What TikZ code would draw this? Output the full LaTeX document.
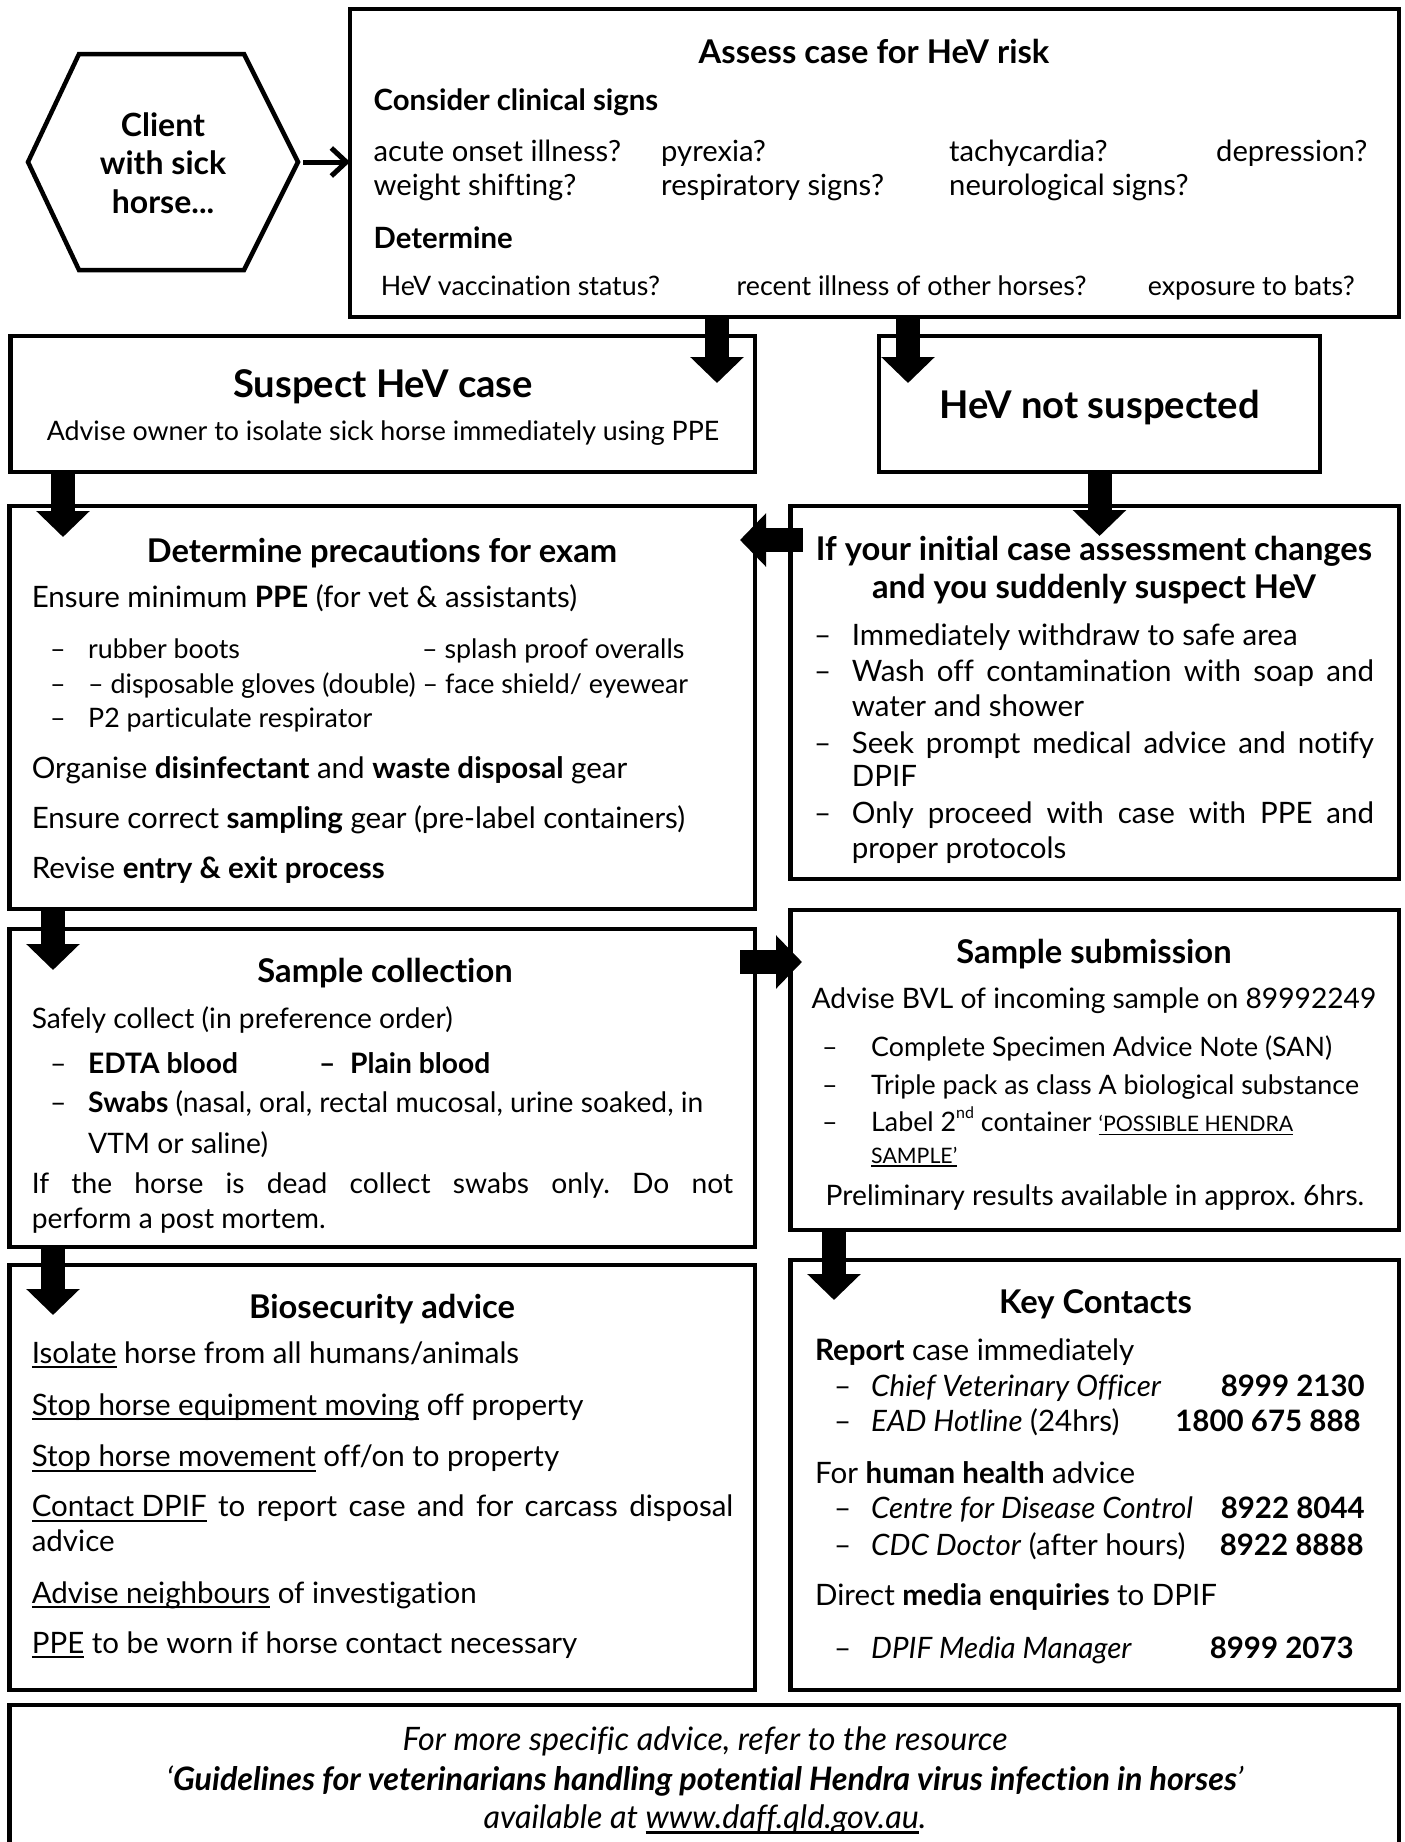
\documentclass[tikz,border=0pt]{standalone}
\usepackage{fontspec}
\setmainfont{Lato}[Ligatures={TeX,NoCommon}]
\usetikzlibrary{arrows.meta,calc}

\newcommand{\bodyfont}{\fontsize{29.5}{34}\selectfont}
\newcommand{\listfont}{\fontsize{26.8}{32}\selectfont}
\newcommand{\collfont}{\fontsize{28.2}{33}\selectfont}
\newcommand{\topfont}{\fontsize{29.2}{34}\selectfont}
\newcommand{\subheadfont}{\fontsize{29.3}{34}\selectfont\bfseries}
\newcommand{\titlefont}{\fontsize{32.7}{38}\selectfont\bfseries}
\newcommand{\hexfont}{\fontsize{32}{38}\selectfont\bfseries}
\newcommand{\bigfont}{\fontsize{38.2}{44}\selectfont\bfseries}
\newcommand{\capsfont}{\fontsize{21.3}{25}\selectfont}
\newcommand{\supfont}{\fontsize{16}{16}\selectfont}
\newcommand{\footfont}{\fontsize{32.3}{38}\selectfont\itshape}
\newcommand{\justline}[2]{\makebox[#1][s]{#2}}
\newcommand{\uln}[1]{\setbox0\hbox{#1}\rlap{\rule[-0.17em]{\wd0}{0.065em}}\box0\relax}
\frenchspacing

\begin{document}
\begin{tikzpicture}[x=1pt,y=-1pt,
  box/.style={draw, line width=4.5pt, anchor=north west, inner sep=0pt, outer sep=0pt},
  txt/.style={anchor=base west, inner sep=0pt, font=\bodyfont},
  listtxt/.style={anchor=base west, inner sep=0pt, font=\listfont},
  colltxt/.style={anchor=base west, inner sep=0pt, font=\collfont},
  toptxt/.style={anchor=base west, inner sep=0pt, font=\topfont},
  subhead/.style={anchor=base west, inner sep=0pt, font=\subheadfont},
  title/.style={anchor=base, inner sep=0pt, font=\titlefont},
  hextxt/.style={anchor=base, inner sep=0pt, font=\hexfont},
  bigtitle/.style={anchor=base, inner sep=0pt, font=\bigfont},
  num/.style={anchor=base east, inner sep=0pt, font=\bodyfont\bfseries},
  foot/.style={anchor=base, inner sep=0pt, font=\footfont},
  blockarrow/.style={line width=24pt, -{Triangle[width=52pt,length=26pt]}},
  thinarrow/.style={line width=5pt, -{Straight Barb[length=15pt,width=28pt]}}
  ]
\useasboundingbox (0,0) rectangle (1405,1842);

% client hexagon
\draw[line width=4.5pt] (28,162) -- (79,54) -- (244,54) -- (298,162) coordinate (hexE)
  -- (244,270) -- (79,270) -- cycle;
\node[hextxt] (client1) at (163,136) {Client};
\node[hextxt] (client2) at (163,174) {with sick};
\node[hextxt] (client3) at (163,213) {horse...};

% boxes
\node[box, minimum width=1049pt, minimum height=308pt] (assess) at (350,9) {};
\node[box, minimum width=744.4pt, minimum height=136pt] (suspect) at (10.6,336) {};
\node[box, minimum width=441pt, minimum height=136pt] (notsusp) at (879,336) {};
\node[box, minimum width=745.6pt, minimum height=403pt] (precaution) at (9.4,506) {};
\node[box, minimum width=608.4pt, minimum height=373pt] (changes) at (790.6,506) {};
\node[box, minimum width=745.6pt, minimum height=318pt] (collect) at (9.4,929) {};
\node[box, minimum width=608.4pt, minimum height=320pt] (submit) at (790.6,910) {};
\node[box, minimum width=745.6pt, minimum height=425pt] (biosec) at (9.4,1265) {};
\node[box, minimum width=608.4pt, minimum height=430pt] (contacts) at (790.6,1260) {};
\node[box, minimum width=1389.6pt, minimum height=170pt] (resource) at (9.4,1705) {};

% assess case
\node[title] (assessT) at (874,63) {Assess case for HeV risk};
\node[subhead] (signs) at (373.5,110) {Consider clinical signs};
\node[toptxt] (s1) at (373.5,161) {acute onset illness?};
\node[toptxt] (s2) at (661,161) {pyrexia?};
\node[toptxt] (s3) at (949,161) {tachycardia?};
\node[toptxt] (s4) at (1216,161) {depression?};
\node[toptxt] (s5) at (373.5,195) {weight shifting?};
\node[toptxt] (s6) at (661,195) {respiratory signs?};
\node[toptxt] (s7) at (949,195) {neurological signs?};
\node[subhead] (determ) at (373.5,248) {Determine};
\node[listtxt] (d1) at (380.6,295) {HeV vaccination status?};
\node[listtxt] (d2) at (736.5,295) {recent illness of other horses?};
\node[listtxt] (d3) at (1147.7,295) {exposure to bats?};

% suspect / not suspected
\node[bigtitle] (suspectT) at (383,397) {Suspect HeV case};
\node[anchor=base, inner sep=0pt, font=\listfont] (suspectS) at (383,440) {Advise owner to isolate sick horse immediately using PPE};
\node[bigtitle] (notsuspT) at (1099.5,418) {HeV not suspected};

% precautions
\node[title] (precT) at (382,562) {Determine precautions for exam};
\node[txt] (p1) at (31.6,607) {Ensure minimum \textbf{PPE} (for vet \& assistants)};
\node[listtxt] (pd1) at (50,658) {--};
\node[listtxt] (pd2) at (50,693) {--};
\node[listtxt] (pd3) at (50,727) {--};
\node[listtxt] (p2) at (88,658) {rubber boots};
\node[listtxt] (p3) at (422,658) {-- splash proof overalls};
\node[listtxt] (p4) at (88,693) {-- disposable gloves (double) -- face shield/ eyewear};
\node[listtxt] (p5) at (88,727) {P2 particulate respirator};
\node[txt] (p6) at (31.6,778) {Organise \textbf{disinfectant} and \textbf{waste disposal} gear};
\node[txt] (p7) at (31.6,828) {Ensure correct \textbf{sampling} gear (pre-label containers)};
\node[txt] (p8) at (31.6,878) {Revise \textbf{entry \& exit process}};

% if assessment changes
\node[title] (chT1) at (1094,560) {If your initial case assessment changes};
\node[title] (chT2) at (1094,598) {and you suddenly suspect HeV};
\node[txt] (cd1) at (814,645) {--};
\node[txt] (cd2) at (814,681.7) {--};
\node[txt] (cd3) at (814,753) {--};
\node[txt] (cd4) at (814,823) {--};
\node[txt] (c1) at (851.7,645) {Immediately withdraw to safe area};
\node[txt] (c2) at (851.7,681.7) {\justline{522pt}{Wash off contamination with soap and}};
\node[txt] (c3) at (851.7,716.7) {water and shower};
\node[txt] (c4) at (851.7,753) {\justline{522pt}{Seek prompt medical advice and notify}};
\node[txt] (c5) at (851.7,786.7) {DPIF};
\node[txt] (c6) at (851.7,823) {\justline{522pt}{Only proceed with case with PPE and}};
\node[txt] (c7) at (851.7,858) {proper protocols};

% sample collection
\node[title] (collT) at (385,982) {Sample collection};
\node[colltxt] (k1) at (31.6,1028) {Safely collect (in preference order)};
\node[colltxt] (kd1) at (50,1073) {--};
\node[colltxt] (kd2) at (50,1112.7) {--};
\node[colltxt] (k2) at (88,1073) {\textbf{EDTA blood}};
\node[colltxt] (k3) at (319,1073) {\textbf{--}};
\node[colltxt] (k4) at (350,1073) {\textbf{Plain blood}};
\node[colltxt] (k5) at (88,1112.7) {\textbf{Swabs} (nasal, oral, rectal mucosal, urine soaked, in};
\node[colltxt] (k6) at (88,1153) {VTM or saline)};
\node[colltxt] (k7) at (31.6,1193) {\justline{701.4pt}{If the horse is dead collect swabs only. Do not}};
\node[colltxt] (k8) at (31.6,1228) {perform a post mortem.};

% sample submission
\node[title] (subT) at (1094,963) {Sample submission};
\node[anchor=base, inner sep=0pt, font=\collfont] (u1) at (1094,1008) {Advise BVL of incoming sample on 89992249};
\node[listtxt] (ud1) at (822,1056.7) {--};
\node[listtxt] (ud2) at (822,1094) {--};
\node[listtxt] (ud3) at (822,1131.7) {--};
\node[listtxt] (u2) at (871,1056.7) {Complete Specimen Advice Note (SAN)};
\node[listtxt] (u3) at (871,1094) {Triple pack as class A biological substance};
\node[listtxt] (u4) at (871,1131.7) {Label 2\raisebox{0.5em}{\supfont nd} container {\capsfont\uln{`POSSIBLE HENDRA}}};
\node[anchor=base west, inner sep=0pt, font=\capsfont] (u5) at (871,1163) {\uln{SAMPLE'}};
\node[anchor=base, inner sep=0pt, font=\collfont] (u6) at (1095,1205) {Preliminary results available in approx. 6hrs.};

% biosecurity
\node[title] (bioT) at (382,1318) {Biosecurity advice};
\node[txt] (b1) at (31.6,1363) {\uln{Isolate} horse from all humans/animals};
\node[txt] (b2) at (31.6,1415) {\uln{Stop horse equipment moving} off property};
\node[txt] (b3) at (31.6,1466.7) {\uln{Stop horse movement} off/on to property};
\node[txt] (b4) at (31.6,1516.7) {\justline{701.4pt}{\uln{Contact DPIF} to report case and for carcass disposal}};
\node[txt] (b5) at (31.6,1551.7) {advice};
\node[txt] (b6) at (31.6,1603) {\uln{Advise neighbours} of investigation};
\node[txt] (b7) at (31.6,1653) {\uln{PPE} to be worn if horse contact necessary};

% key contacts
\node[title] (keyT) at (1095.5,1313) {Key Contacts};
\node[txt] (r1) at (815,1360) {\textbf{Report} case immediately};
\node[txt] (rd1) at (834,1396.7) {--};
\node[txt] (rd2) at (834,1431.7) {--};
\node[txt] (rd3) at (834,1518) {--};
\node[txt] (rd4) at (834,1555) {--};
\node[txt] (rd5) at (834,1658) {--};
\node[txt] (r2) at (871,1396.7) {\textit{Chief Veterinary Officer}};
\node[num] (n2) at (1365,1396.7) {8999 2130};
\node[txt] (r3) at (871,1431.7) {\textit{EAD Hotline} (24hrs)};
\node[num] (n3) at (1361,1431.7) {1800 675 888};
\node[txt] (r4) at (815,1483) {For \textbf{human health} advice};
\node[txt] (r5) at (871,1518) {\textit{Centre for Disease Control}};
\node[num] (n5) at (1365,1518) {8922 8044};
\node[txt] (r6) at (871,1555) {\textit{CDC Doctor} (after hours)};
\node[num] (n6) at (1364,1555) {8922 8888};
\node[txt] (r7) at (815,1605) {Direct \textbf{media enquiries} to DPIF};
\node[txt] (r8) at (871,1658) {\textit{DPIF Media Manager}};
\node[num] (n8) at (1354,1658) {8999 2073};

% resource
\node[foot] (f1) at (705,1750) {For more specific advice, refer to the resource};
\node[foot] (f2) at (705,1790) {`\textbf{Guidelines for veterinarians handling potential Hendra virus infection in horses}'};
\node[foot] (f3) at (705,1828) {available at \uln{www.daff.qld.gov.au}.};

% arrows
\draw[thinarrow] ([xshift=5pt]hexE) -- (hexE -| assess.west);
\coordinate (tipA) at (717,383);
\coordinate (tipB) at (908,383);
\coordinate (tipC) at (1099.5,536);
\coordinate (tipD) at (740,540);
\coordinate (tipE) at (63,537);
\coordinate (tipF) at (53,970);
\coordinate (tipG) at (802,962);
\coordinate (tipH) at (53,1315);
\coordinate (tipI) at (834,1300);
\draw[blockarrow] (tipA |- assess.south) -- (tipA);
\draw[blockarrow] (tipB |- assess.south) -- (tipB);
\draw[blockarrow] (tipC |- notsusp.south) -- (tipC);
\draw[blockarrow] ($(changes.west |- tipD)+(12,0)$) -- (tipD);
\draw[blockarrow] (tipE |- suspect.south) -- (tipE);
\draw[blockarrow] (tipF |- precaution.south) -- (tipF);
\draw[blockarrow] ($(collect.east |- tipG)+(-15,0)$) -- (tipG);
\draw[blockarrow] (tipH |- collect.south) -- (tipH);
\draw[blockarrow] (tipI |- submit.south) -- (tipI);
\end{tikzpicture}
\end{document}
